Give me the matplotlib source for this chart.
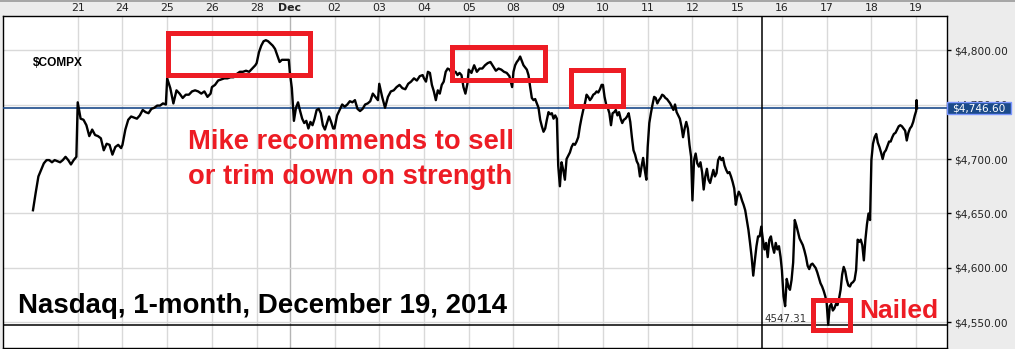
import numpy as np
import matplotlib
matplotlib.use("Agg")
import matplotlib.pyplot as plt
from matplotlib.patches import Rectangle
from matplotlib.transforms import blended_transform_factory

# Session labels along the top (Nov 20 .. Dec 19, 2014) and their widths in trading days
days = ["20", "21", "24", "25", "26", "28", "Dec", "02", "03", "04", "05", "08",
        "09", "10", "11", "12", "15", "16", "17", "18", "19"]
day_len = [1, 1, 1, 1, 1, 0.74] + [1] * 14 + [0.02]

# Intraday $COMPX levels, evenly spaced through each session
nov20 = [4653, 4669, 4684, 4690, 4696, 4699, 4699, 4697, 4699, 4698, 4697, 4699, 4702, 4699, 4695, 4699, 4702]
nov21 = [4752, 4737, 4736, 4731, 4721, 4727, 4722, 4721, 4719, 4708, 4714, 4713, 4704, 4711, 4713, 4710]
nov24 = [4713, 4727, 4736, 4739, 4738, 4737, 4740, 4745, 4743, 4742, 4746, 4747, 4749, 4749, 4751, 4750]
nov25 = [4774, 4765, 4751, 4763, 4760, 4756, 4759, 4759, 4762, 4763, 4762, 4760, 4762, 4757, 4760]
nov26 = [4766, 4768, 4772, 4773, 4774, 4774, 4775, 4775, 4778, 4780, 4780, 4781, 4780, 4783, 4786]
nov28 = [4788, 4798, 4804, 4808, 4809, 4808, 4806, 4804, 4801, 4795, 4789, 4791, 4791, 4791, 4791]
dec01 = [4780, 4765, 4735, 4747, 4752, 4744, 4737, 4733, 4735, 4728, 4734, 4731, 4737, 4745, 4746,
         4742, 4731, 4727, 4733, 4739, 4734, 4728]
dec02 = [4728, 4740, 4745, 4750, 4748, 4750, 4753, 4752, 4754, 4746, 4744, 4746, 4750, 4751, 4753, 4760, 4757, 4754]
dec03 = [4769, 4757, 4747, 4757, 4762, 4763, 4766, 4768, 4765, 4764, 4769, 4771, 4774, 4772, 4776, 4777]
dec04 = [4774, 4771, 4780, 4779, 4768, 4762, 4754, 4763, 4760, 4768, 4771, 4780, 4783, 4782, 4779, 4780,
         4780, 4777, 4779, 4777, 4766, 4760, 4769]
dec05 = [4782, 4779, 4786, 4780, 4783, 4783, 4786, 4788, 4789, 4785, 4781, 4783, 4782, 4780, 4779, 4776, 4766]
dec08 = [4780, 4786, 4789, 4791, 4794, 4790, 4786, 4784, 4782, 4777, 4766, 4756, 4754, 4755, 4751, 4747,
         4736, 4730, 4725, 4728, 4736, 4743, 4741, 4742, 4737, 4740, 4737]
dec09 = [4694, 4675, 4697, 4690, 4681, 4700, 4703, 4706, 4711, 4714, 4713, 4716, 4720, 4730, 4738, 4745,
         4751, 4759, 4757, 4754, 4756, 4759, 4760, 4762, 4761, 4764, 4768]
dec10 = [4768, 4757, 4750, 4747, 4742, 4731, 4742, 4743, 4745, 4740, 4743, 4737, 4733, 4736, 4737, 4739,
         4742, 4734, 4720, 4708, 4704, 4698, 4695, 4684, 4693, 4701, 4690, 4681]
dec11 = [4711, 4733, 4742, 4750, 4757, 4756, 4751, 4754, 4756, 4759, 4758, 4756, 4755, 4753, 4751, 4748,
         4745, 4750, 4743, 4740, 4737, 4730, 4720, 4728, 4734, 4728, 4713, 4702]
dec12 = [4662, 4699, 4705, 4696, 4693, 4697, 4688, 4672, 4684, 4691, 4681, 4678, 4684, 4690, 4684, 4687,
         4699, 4702, 4699, 4701, 4694, 4690, 4687, 4688, 4684, 4679, 4673, 4658]
dec15 = [4665, 4670, 4667, 4662, 4658, 4653, 4644, 4635, 4623, 4610, 4593, 4607, 4620, 4629, 4629, 4638,
         4626, 4617, 4623, 4610, 4626, 4629, 4620, 4614, 4623, 4617, 4620, 4610]
dec16 = [4598, 4574, 4565, 4590, 4583, 4580, 4589, 4605, 4644, 4639, 4633, 4627, 4624, 4621, 4616, 4610,
         4602, 4599, 4603, 4604, 4602, 4600, 4596, 4591, 4586, 4583, 4579, 4574]
dec17 = [4568, 4548, 4565, 4567, 4561, 4563, 4567, 4566, 4572, 4580, 4594, 4601, 4597, 4589, 4584, 4583,
         4586, 4587, 4589, 4598, 4626, 4624, 4626, 4621, 4607, 4626, 4640, 4650, 4644]
dec18 = [4699, 4714, 4720, 4723, 4715, 4711, 4706, 4700, 4706, 4708, 4712, 4716, 4716, 4720, 4723, 4724,
         4727, 4730, 4731, 4730, 4728, 4726, 4717, 4724, 4728, 4730, 4734, 4740]
dec19 = [4744, 4754, 4746.6]

day_prices = [nov20, nov21, nov24, nov25, nov26, nov28, dec01, dec02, dec03, dec04, dec05,
              dec08, dec09, dec10, dec11, dec12, dec15, dec16, dec17, dec18, dec19]

price_levels = [4550, 4600, 4650, 4700, 4750, 4800]
last_price = 4746.60
low_price = 4547.31

RED = "#ed1c24"
NAVY = "#1b4a8a"

starts = np.concatenate([[0.0], np.cumsum(day_len)[:-1]])
x = np.concatenate([s + np.linspace(0, L * 0.97, len(p)) for s, L, p in zip(starts, day_len, day_prices)])
y = np.concatenate(day_prices)

fig = plt.figure(figsize=(10.15, 3.49), dpi=100, facecolor="#ececec")
ax = fig.add_axes([3 / 1015, 1 / 349, 944 / 1015, 332 / 349])
ax.set_facecolor("white")

ax.plot(x, y, color="black", lw=1.7, zorder=3)
ax.set_xlim(-0.67, 20.43)
ax.set_ylim(4526.6, 4831.2)

# date labels on top, day-start gridlines
ax.xaxis.tick_top()
ax.set_xticks(starts[1:])
ax.set_xticklabels(days[1:])
ax.tick_params(axis="x", length=0, pad=2, labelsize=7.8, labelcolor="#222222")
for lbl in ax.get_xticklabels():
    if lbl.get_text() == "Dec":
        lbl.set_fontweight("bold")

# price axis on the right
ax.yaxis.tick_right()
ax.set_yticks(price_levels)
ax.set_yticklabels([f"${v:,.2f}" for v in price_levels])
ax.tick_params(axis="y", length=3, width=1, pad=2, labelsize=7.6, labelcolor="#222222")

ax.set_axisbelow(True)
ax.grid(True, color="#d9d9d9", lw=1)
ax.get_xgridlines()[days.index("Dec") - 1].set_color("#b4b4b4")
for sp in ax.spines.values():
    sp.set_color("black")
    sp.set_linewidth(1)

# last-price line and tag
ax.axhline(last_price, color=NAVY, lw=1.2, zorder=2.6)
bt = blended_transform_factory(ax.transAxes, ax.transData)
ax.add_patch(Rectangle((1.0, last_price - 5.3), 0.0678, 10.6, transform=bt, fc=NAVY,
                       ec="#7b96ff", lw=1, clip_on=False, zorder=5))
ax.text(1.005, last_price, f"${last_price:,.2f}", transform=bt, color="white", fontsize=7.6,
        va="center", ha="left", zorder=6, clip_on=False)

# cursor cross-hair at the low
cursor_x = starts[days.index("15")] + 0.55
ax.axhline(low_price, color="black", lw=1.1, zorder=2.7)
ax.axvline(cursor_x, color="black", lw=1.1, zorder=2.7)
ax.text(cursor_x + 0.06, low_price + 3, f"{low_price:.2f}", fontsize=7.4, color="#333333",
        va="baseline", ha="left")

# red highlight boxes (day position, price)
highlight_boxes = [(3.017, 6.19, 4777.1, 4815.6),
                   (9.377, 11.455, 4772.9, 4803.2),
                   (12.036, 13.198, 4748.2, 4781.2),
                   (17.445, 18.272, 4542.7, 4570.2)]
for x0, x1, y0, y1 in highlight_boxes:
    ax.add_patch(Rectangle((x0, y0), x1 - x0, y1 - y0, fill=False, ec=RED, lw=3.6,
                           zorder=4, clip_on=False))

bold = dict(family=["Liberation Sans", "DejaVu Sans"], fontweight="bold")
ax.text(0.0318, 0.858, "$COMPX", transform=ax.transAxes, fontsize=8.6, va="center", ha="left", **bold)
ax.text(0.196, 0.599, "Mike recommends to sell", transform=ax.transAxes, fontsize=19.7,
        color=RED, va="baseline", ha="left", **bold)
ax.text(0.196, 0.494, "or trim down on strength", transform=ax.transAxes, fontsize=19.7,
        color=RED, va="baseline", ha="left", **bold)
ax.text(0.0159, 0.106, "Nasdaq, 1-month, December 19, 2014", transform=ax.transAxes,
        fontsize=19.9, color="black", va="baseline", ha="left", **bold)
ax.text(0.9068, 0.0904, "Nailed", transform=ax.transAxes, fontsize=19, color=RED,
        va="baseline", ha="left", **bold)

fig.add_artist(plt.Line2D([0, 1], [0.998, 0.998], transform=fig.transFigure, color="#9a9a9a", lw=1.2))

fig.savefig("out.png", dpi=100, facecolor=fig.get_facecolor())
